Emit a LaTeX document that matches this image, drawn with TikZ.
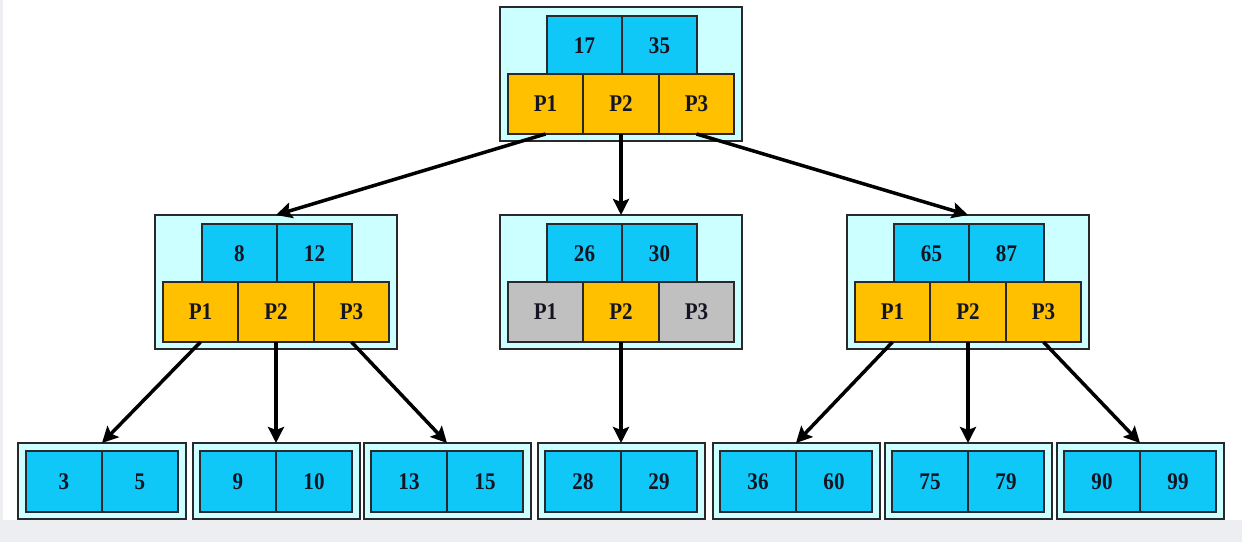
\documentclass[tikz,border=0pt]{standalone}
\usepackage{fontspec}
\newfontfamily\lblfont[FakeStretch=0.88]{Liberation Serif}
\usetikzlibrary{arrows.meta}
\definecolor{keyblue}{RGB}{16,200,248}
\definecolor{porange}{RGB}{255,192,0}
\definecolor{pgray}{RGB}{192,192,192}
\definecolor{outerfill}{RGB}{204,255,255}
\definecolor{boxline}{RGB}{40,40,45}
\definecolor{textcol}{RGB}{20,20,35}
\definecolor{bggray}{RGB}{236,238,241}
\tikzset{
  outerbox/.style={draw=boxline, fill=outerfill, line width=2bp, inner sep=0pt, outer sep=0pt},
  cell/.style={draw=boxline, line width=1.6bp, inner sep=0pt, outer sep=0pt,
    font=\lblfont\bfseries\fontsize{24}{24}\selectfont, text=textcol},
  keycell/.style={cell, fill=keyblue, minimum width=75bp, minimum height=59bp},
  pcell/.style={cell, minimum width=75.5bp, minimum height=60bp},
  leafcell/.style={cell, fill=keyblue, minimum width=76bp, minimum height=61bp},
  link/.style={line width=3.5bp, draw=black, -{Stealth[length=16bp,width=16bp,inset=3bp]}},
}
% name, cx, top y, key1, key2, p1 fill, p2 fill, p3 fill
\newcommand\inode[8]{%
  \node[outerbox, minimum width=242bp, minimum height=134bp] (#1) at (#2,#3+67) {};
  \node[keycell] (#1-k1) at (#2-36.5,#3+38.5) {#4};
  \node[keycell] (#1-k2) at (#2+38.5,#3+38.5) {#5};
  \node[pcell, fill=#6] (#1-p1) at (#2-75.5,#3+97) {P1};
  \node[pcell, fill=#7] (#1-p2) at (#2,#3+97) {P2};
  \node[pcell, fill=#8] (#1-p3) at (#2+75.5,#3+97) {P3};
}
% name, cx, key1, key2
\newcommand\lnode[4]{%
  \node[outerbox, minimum width=167bp, minimum height=76bp] (#1) at (#2,481) {};
  \node[leafcell] (#1-k1) at (#2-38,481.5) {#3};
  \node[leafcell] (#1-k2) at (#2+38,481.5) {#4};
}
\begin{document}
\begin{tikzpicture}[x=1bp,y=-1bp]
\useasboundingbox (0,0) rectangle (1242,542);
\fill[bggray] (0,0) rectangle (1242,542);
\fill[white] (3,0) rectangle (1242,520);

\inode{r}{621}{7}{17}{35}{porange}{porange}{porange}
\inode{a}{276}{215}{8}{12}{porange}{porange}{porange}
\inode{b}{621}{215}{26}{30}{pgray}{porange}{pgray}
\inode{c}{968}{215}{65}{87}{porange}{porange}{porange}

\lnode{l1}{102}{3}{5}
\lnode{l2}{276}{9}{10}
\lnode{l3}{447}{13}{15}
\lnode{l4}{621}{28}{29}
\lnode{l5}{796}{36}{60}
\lnode{l6}{968}{75}{79}
\lnode{l7}{1140}{90}{99}

\draw[link] (r-p1.south) -- (a.north);
\draw[link] (r-p2.south) -- (b.north);
\draw[link] (r-p3.south) -- (c.north);

\draw[link] (a-p1.south) -- (l1.north);
\draw[link] (a-p2.south) -- (l2.north);
\draw[link] (a-p3.south) -- (l3.north);
\draw[link] (b-p2.south) -- (l4.north);
\draw[link] (c-p1.south) -- (l5.north);
\draw[link] (c-p2.south) -- (l6.north);
\draw[link] (c-p3.south) -- (l7.north);
\end{tikzpicture}
\end{document}
